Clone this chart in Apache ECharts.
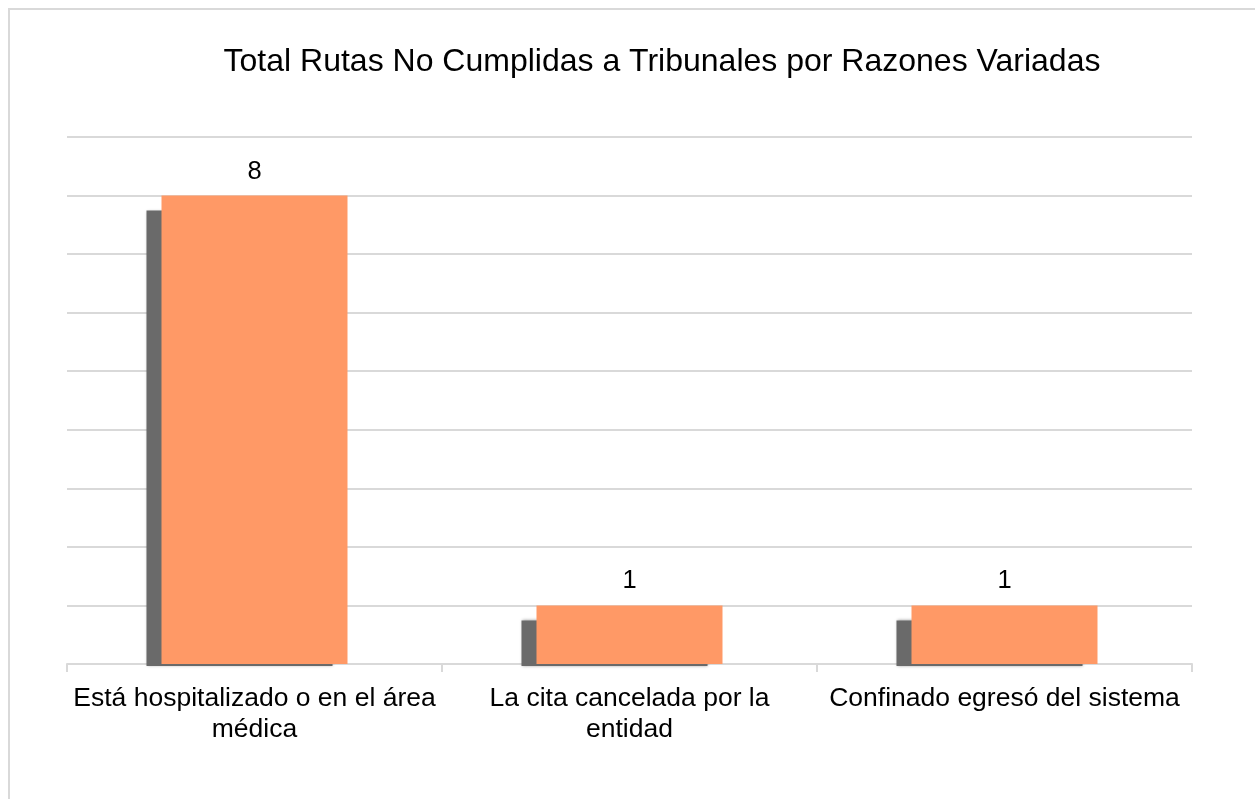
<!DOCTYPE html>
<html>
<head>
<meta charset="utf-8">
<script src="https://cdn.jsdelivr.net/npm/echarts@6/dist/echarts.min.js"></script>
<style>
  html, body { margin: 0; padding: 0; background: #fff; }
  #chart { width: 1255px; height: 799px; }
</style>
</head>
<body>
<div id="chart"></div>
<script>
const titleText = 'Total Rutas No Cumplidas a Tribunales por Razones Variadas';
const categories = ['Está hospitalizado o en el área\nmédica', 'La cita cancelada por la\nentidad', 'Confinado egresó del sistema'];
const values = [8, 1, 1];
const yMin = 0, yMax = 9, yInterval = 1;

const chart = echarts.init(document.getElementById('chart'), null, { renderer: 'canvas' });
const FONT = '"Liberation Sans", Arial, sans-serif';
const BAR_RATIO = 0.496;

chart.setOption({
  backgroundColor: '#ffffff',
  animation: false,
  graphic: [
    { type: 'rect', shape: { x: 9, y: 9, width: 1400, height: 1000 }, style: { fill: 'none', stroke: '#d9d9d9', lineWidth: 2 }, silent: true, z: -10 },
    { type: 'text', x: 662, y: 62, style: { text: titleText, font: '32px ' + FONT, fill: '#000', textAlign: 'center', textVerticalAlign: 'middle' } }
  ],
  grid: { left: 67, right: 63, top: 137, bottom: 135, containLabel: false },
  xAxis: {
    type: 'category',
    data: categories,
    axisLine: { show: true, lineStyle: { color: '#d9d9d9', width: 2 } },
    axisTick: { show: true, length: 8, lineStyle: { color: '#d9d9d9', width: 2 } },
    axisLabel: { color: '#000', fontSize: 26.5, fontFamily: FONT, lineHeight: 31, margin: 19, interval: 0 }
  },
  yAxis: {
    type: 'value', min: yMin, max: yMax, interval: yInterval,
    axisLine: { show: false }, axisTick: { show: false }, axisLabel: { show: false },
    splitLine: { lineStyle: { color: '#d9d9d9', width: 2 } }
  },
  series: [
    {
      type: 'custom',
      z: 1,
      data: values.map((v, i) => [i, v]),
      renderItem: function (params, api) {
        const i = api.value(0), v = api.value(1);
        const top = api.coord([i, v]);
        const base = api.coord([i, 0]);
        const band = api.size([1, 0])[0];
        const w = band * BAR_RATIO;
        const x0 = top[0] - w / 2 - 15;
        const y0 = top[1] + 15;
        return {
          type: 'rect',
          shape: { x: x0, y: y0, width: w, height: base[1] + 2 - y0 },
          style: { fill: '#6a6a6a', shadowBlur: 3, shadowColor: 'rgba(0,0,0,0.35)' }
        };
      }
    },
    {
      type: 'bar',
      z: 2,
      data: values,
      barWidth: (BAR_RATIO * 100) + '%',
      itemStyle: { color: '#ff9966' },
      label: { show: true, position: 'top', distance: 11, color: '#000', fontSize: 25.5, fontFamily: FONT }
    }
  ]
});
</script>
</body>
</html>
